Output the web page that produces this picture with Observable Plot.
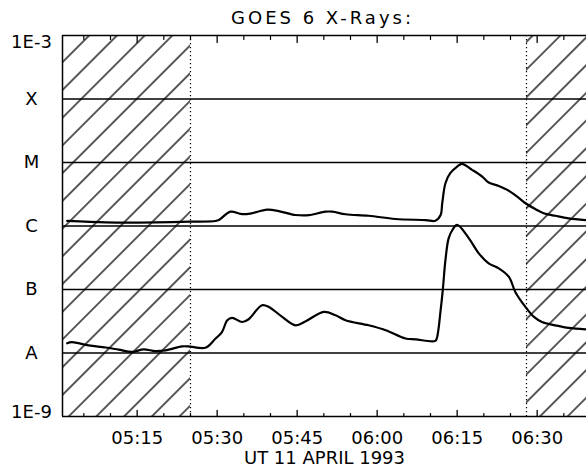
<!DOCTYPE html>
<html><head><meta charset="utf-8">
<script src="https://cdn.jsdelivr.net/npm/d3@7"></script>
<script src="https://cdn.jsdelivr.net/npm/@observablehq/plot@0.6"></script>
<style>
body{margin:0;background:#fff}
</style>
</head><body><div id="chart"></div>
<script>
const DAY = "1993-04-11";
const title = "GOES 6 X-Rays:";
const xLabel = "UT 11 APRIL 1993";

// 1-8 Å channel (upper curve)
const longTimes = ["05:01:53","05:09:04","05:14:04","05:25:00","05:29:42","05:30:18","05:32:30","05:34:24","05:35:54","05:39:24","05:41:33","05:44:42","05:47:12","05:50:18","05:51:36","05:54:04","05:58:24","06:03:24","06:09:06","06:10:54","06:11:54","06:12:12","06:12:48","06:13:42","06:15:00","06:15:54","06:17:48","06:19:42","06:20:54","06:22:48","06:24:24","06:26:15","06:27:48","06:29:42","06:31:12","06:33:24","06:35:54","06:39:04"];
const longFlux = [1.20e-6,1.14e-6,1.13e-6,1.17e-6,1.20e-6,1.24e-6,1.68e-6,1.55e-6,1.55e-6,1.81e-6,1.72e-6,1.49e-6,1.48e-6,1.68e-6,1.68e-6,1.53e-6,1.45e-6,1.29e-6,1.24e-6,1.21e-6,1.49e-6,2.28e-6,4.72e-6,6.79e-6,8.63e-6,9.52e-6,7.66e-6,6.00e-6,4.83e-6,4.28e-6,3.70e-6,2.90e-6,2.28e-6,1.84e-6,1.59e-6,1.45e-6,1.32e-6,1.24e-6];

// 0.5-4 Å channel (lower curve)
const shortTimes = ["05:01:53","05:02:45","05:05:54","05:09:04","05:11:30","05:14:04","05:16:12","05:18:24","05:20:18","05:23:24","05:24:36","05:27:48","05:29:42","05:30:54","05:31:54","05:32:48","05:34:42","05:35:54","05:38:24","05:39:42","05:42:12","05:44:42","05:46:36","05:50:00","05:52:12","05:54:04","05:58:24","06:01:36","06:05:18","06:07:12","06:10:54","06:11:15","06:11:54","06:12:18","06:12:48","06:13:24","06:14:06","06:15:00","06:17:12","06:19:03","06:20:54","06:22:48","06:24:42","06:25:54","06:27:48","06:29:24","06:30:54","06:33:24","06:35:54","06:39:04"];
const shortFlux = [1.42e-8,1.48e-8,1.32e-8,1.22e-8,1.13e-8,1.04e-8,1.14e-8,1.07e-8,1.10e-8,1.27e-8,1.27e-8,1.21e-8,1.69e-8,2.14e-8,3.28e-8,3.57e-8,3.08e-8,3.40e-8,5.65e-8,5.32e-8,3.70e-8,2.73e-8,3.16e-8,4.44e-8,3.93e-8,3.28e-8,2.73e-8,2.28e-8,1.69e-8,1.64e-8,1.55e-8,1.79e-8,4.72e-8,9.76e-8,2.90e-7,6.39e-7,8.65e-7,1.04e-6,6.39e-7,3.71e-7,2.58e-7,2.15e-7,1.58e-7,9.16e-8,5.32e-8,3.70e-8,3.08e-8,2.73e-8,2.48e-8,2.36e-8];

const yTickValues = [1e-3,1e-4,1e-5,1e-6,1e-7,1e-8,1e-9];
const yTickLabels = ["1E-3","X","M","C","B","A","1E-9"];
const xTickTimes = ["05:15","05:30","05:45","06:00","06:15","06:30"];
const minorTickTimes = ["05:05","05:10","05:20","05:25","05:35","05:40","05:50","05:55","06:05","06:10","06:20","06:25","06:35"];
const hatchStarts = ["05:01:00","06:28:00"];
const hatchEnds = ["05:25:00","06:39:15"];
const xDomain = ["05:01:00","06:39:15"];

const t = s => new Date(`${DAY}T${s.length === 5 ? s + ":00" : s}Z`);
const longData = longTimes.map((s, i) => ({time: t(s), flux: longFlux[i]}));
const shortData = shortTimes.map((s, i) => ({time: t(s), flux: shortFlux[i]}));
const hatch = hatchStarts.map((s, i) => ({x1: t(s), x2: t(hatchEnds[i])}));
const yLab = yTickValues.map((v, i) => ({v, label: yTickLabels[i]}));

const W = 586, H = 472, ML = 62, MR = 0, MT = 35, MB = 56;
const font = {fontFamily: "DejaVu Sans", fontSize: 18, fill: "#000"};

// inward tick marks drawn as short vectors anchored on the frame edges
const tickShape = {draw(context, l) { context.moveTo(0, 0); context.lineTo(0, -l); }};

const svg = Plot.plot({
  width: W, height: H,
  marginLeft: ML, marginRight: MR, marginTop: MT, marginBottom: MB,
  style: {fontFamily: "DejaVu Sans", fontSize: "18px", background: "#fff", color: "#000"},
  x: {type: "utc", domain: xDomain.map(t), axis: null},
  y: {type: "log", domain: [1e-9, 1e-3], axis: null},
  length: {type: "identity"},
  marks: [
    Plot.rect(hatch, {x1: "x1", x2: "x2", fill: "url(#hatch)"}),
    Plot.ruleY(yTickValues, {stroke: "#000", strokeWidth: 1.3}),
    Plot.ruleX([t(xDomain[0])], {stroke: "#000", strokeWidth: 1.5}),
    Plot.ruleX(hatchEnds.slice(0, 1).concat(hatchStarts.slice(1)).map(t), {stroke: "#000", strokeWidth: 1.2, strokeDasharray: "1.2,2.8"}),
    Plot.vector(xTickTimes.map(t), {x: d => d, frameAnchor: "bottom", length: 6, rotate: 0, anchor: "start", shape: tickShape, stroke: "#000", strokeWidth: 1.3}),
    Plot.vector(minorTickTimes.map(t), {x: d => d, frameAnchor: "bottom", length: 3, rotate: 0, anchor: "start", shape: tickShape, stroke: "#000", strokeWidth: 1.2}),
    Plot.vector(xTickTimes.map(t), {x: d => d, frameAnchor: "top", length: 7, rotate: 180, anchor: "start", shape: tickShape, stroke: "#000", strokeWidth: 1.3}),
    Plot.vector(minorTickTimes.map(t), {x: d => d, frameAnchor: "top", length: 4, rotate: 180, anchor: "start", shape: tickShape, stroke: "#000", strokeWidth: 1.2}),
    Plot.line(longData, {x: "time", y: "flux", stroke: "#000", strokeWidth: 2.2, curve: "catmull-rom"}),
    Plot.line(shortData, {x: "time", y: "flux", stroke: "#000", strokeWidth: 2.2, curve: "catmull-rom"}),
    Plot.text(yLab.slice(1, 6), {y: "v", text: "label", frameAnchor: "left", dx: -31, textAnchor: "middle", lineAnchor: "middle", ...font}),
    Plot.text(yLab.slice(0, 1), {y: "v", text: "label", frameAnchor: "left", dx: -31, dy: 7, textAnchor: "middle", lineAnchor: "middle", ...font}),
    Plot.text(yLab.slice(6), {y: "v", text: "label", frameAnchor: "left", dx: -31, dy: -4, textAnchor: "middle", lineAnchor: "middle", ...font}),
    Plot.text(xTickTimes, {x: d => t(d), text: d => d, frameAnchor: "bottom", dy: 22, lineAnchor: "middle", ...font}),
    Plot.text([xLabel], {text: d => d, frameAnchor: "bottom", dy: 42, lineAnchor: "middle", ...font}),
    Plot.text([title], {text: d => d, frameAnchor: "top", dy: -17, dx: -2, lineAnchor: "middle", ...font})
  ]
});

d3.select(svg).insert("defs", ":first-child").html(
  '<pattern id="hatch" patternUnits="userSpaceOnUse" width="19.6" height="19.6" patternTransform="rotate(45)">' +
  '<line x1="9.8" y1="-1" x2="9.8" y2="20.6" stroke="#000" stroke-width="1.3"/></pattern>'
);
d3.select(svg).selectAll("text").filter(function() { return this.textContent === title; })
  .style("letter-spacing", "3px");
document.getElementById("chart").appendChild(svg);
</script>
</body></html>
